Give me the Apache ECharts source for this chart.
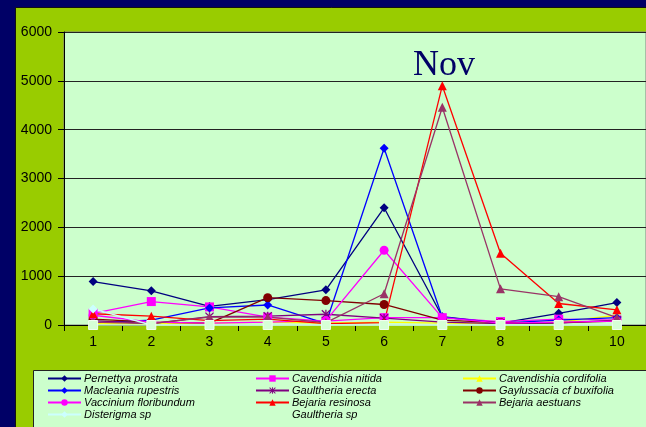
<!DOCTYPE html>
<html>
<head>
<meta charset="utf-8">
<script src="https://cdn.jsdelivr.net/npm/echarts@6/dist/echarts.min.js"></script>
<style>html,body{margin:0;padding:0;background:#000066;}#c{width:646px;height:427px;}</style>
</head>
<body>
<div id="c"></div>
<script>
var categories = ['1','2','3','4','5','6','7','8','9','10'];
var yTicks = [0,1000,2000,3000,4000,5000,6000];

var pernettya   = [890, 700, 380, 520, 720, 2400, 170, 40, 240, 460];
var macleania   = [50, 100, 350, 410, 30, 3620, 160, 40, 100, 150];
var vaccinium   = [200, 60, 40, 60, 90, 1530, 150, 40, 60, 80];
var disterigma  = [330, 0, 0, 0, 0, 0, 0, 0, 0, 0];
var nitida      = [240, 480, 370, 160, 80, 150, 150, 70, 120, 100];
var erecta      = [90, 30, 170, 180, 220, 140, 60, 30, 40, 100];
var resinosa    = [230, 180, 90, 120, 30, 50, 4900, 1470, 440, 310];
var gaultheriaSp= [0, 0, 0, 0, 0, 0, 0, 0, 0, 0];
var cordifolia  = [30, 20, 40, 60, 40, 60, 40, 30, 60, 200];
var gaylussacia = [120, 60, 40, 560, 500, 420, 100, 50, 50, 80];
var aestuans    = [60, 30, 160, 160, 50, 640, 4460, 740, 580, 150];

var names = {
  pern:'Pernettya prostrata', macl:'Macleania rupestris', vacc:'Vaccinium floribundum', dist:'Disterigma sp',
  nit:'Cavendishia nitida', ere:'Gaultheria erecta', res:'Bejaria resinosa', gsp:'Gaultheria sp',
  cor:'Cavendishia cordifolia', gay:'Gaylussacia cf buxifolia', aes:'Bejaria aestuans'
};

var asterisk = 'path://M4.3,0L5.7,0L5.7,10L4.3,10Z M1,0L10,9L9,10L0,1Z M9,0L10,1L1,10L0,9Z';

function mk(name, data, color, symbol, size, extra){
  var s = {
    name: name, type: 'line', data: data, symbol: symbol, symbolSize: size,
    clip: false, animation: false,
    lineStyle: {color: color, width: 1.3},
    itemStyle: {color: color}
  };
  if (extra) for (var k in extra) s[k] = extra[k];
  return s;
}

var series = [
  mk(names.pern, pernettya, '#000080', 'diamond', 9),
  mk(names.nit, nitida, '#ff00ff', 'rect', 9),
  mk(names.cor, cordifolia, '#ffff00', 'triangle', 9),
  mk(names.macl, macleania, '#0000ff', 'diamond', 9),
  mk(names.ere, erecta, '#800080', asterisk, 9),
  mk(names.gay, gaylussacia, '#800000', 'circle', 9),
  mk(names.vacc, vaccinium, '#ff00ff', 'circle', 9),
  mk(names.res, resinosa, '#ff0000', 'triangle', 9),
  mk(names.aes, aestuans, '#993366', 'triangle', 9),
  mk(names.dist, disterigma, '#ccffff', 'diamond', 9),
  mk(names.gsp, gaultheriaSp, '#ccffcc', 'rect', 9, {itemStyle:{color:'#d6ffd6', borderColor:'#f0fff0', borderWidth:1}})
];

function legendCol(left, list){
  return {
    orient: 'vertical', left: left, top: 373, data: list,
    itemWidth: 33, itemHeight: 8, itemGap: 1, selectedMode: false,
    textStyle: {fontFamily: 'Liberation Sans, Arial, sans-serif', fontStyle: 'italic', fontSize: 11, color: '#000', lineHeight: 11, padding: [0,0,0,-2]},
    padding: 0
  };
}

var chart = echarts.init(document.getElementById('c'), null, {renderer: 'canvas'});
chart.setOption({
  backgroundColor: '#000066',
  animation: false,
  graphic: [
    {type:'rect', z:-10, shape:{x:15.5, y:7.5, width:640, height:430}, style:{fill:'#99cc00', stroke:'#111111', lineWidth:1}},
    {type:'rect', z:-5, shape:{x:33.5, y:370.5, width:620, height:70}, style:{fill:'#ccffcc', stroke:'#222222', lineWidth:1}},
    {type:'text', z:100, style:{text:'Nov', x:413, y:66, fill:'#000066', font:'36px "Liberation Serif", "Times New Roman", serif', textAlign:'left', textVerticalAlign:'middle'}}
  ],
  grid: {left: 64, top: 32, right: -1, bottom: 102, show: true, backgroundColor: '#ccffcc', borderColor: '#808080', borderWidth: 1},
  xAxis: {
    type: 'category', data: categories, boundaryGap: true,
    axisLine: {show: true, lineStyle: {color: '#000', width: 1}},
    axisTick: {show: true, interval: 0, length: 6, lineStyle: {color: '#000'}},
    axisLabel: {fontSize: 14, color: '#000', margin: 10, fontFamily: 'Liberation Sans, Arial, sans-serif'},
    splitLine: {show: false}
  },
  yAxis: {
    type: 'value', min: yTicks[0], max: yTicks[yTicks.length-1], interval: 1000,
    axisLine: {show: true, lineStyle: {color: '#000', width: 1}},
    axisTick: {show: true, length: 6, lineStyle: {color: '#000'}},
    axisLabel: {fontSize: 14, color: '#000', margin: 12, fontFamily: 'Liberation Sans, Arial, sans-serif', formatter: function(v){ return String(v); }},
    splitLine: {show: true, lineStyle: {color: '#222', width: 1}}
  },
  legend: [
    legendCol(47, [names.pern, names.macl, names.vacc, names.dist]),
    legendCol(255, [names.nit, names.ere, names.res, {name: names.gsp, itemStyle: {opacity: 0}, lineStyle: {opacity: 0}}]),
    legendCol(462, [names.cor, names.gay, names.aes])
  ],
  series: series
});
</script>
</body>
</html>
